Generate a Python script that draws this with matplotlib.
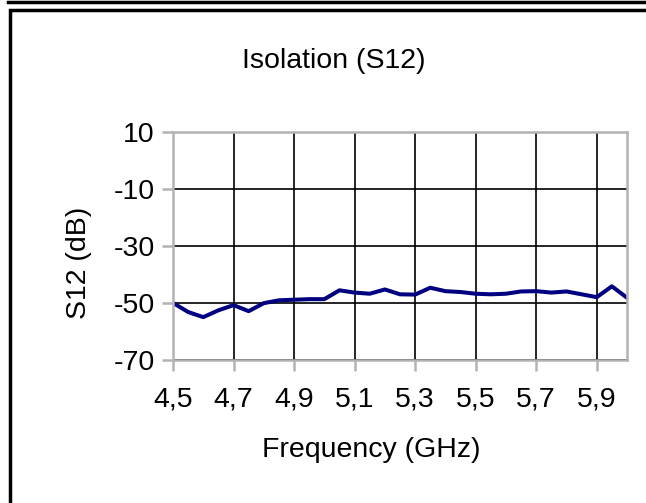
import matplotlib
matplotlib.use('Agg')
import matplotlib.pyplot as plt
from matplotlib.patches import Rectangle
from matplotlib.lines import Line2D

freq = [4.5, 4.55, 4.6, 4.65, 4.7, 4.75, 4.8, 4.85, 4.9, 4.95, 5.0,
        5.05, 5.1, 5.15, 5.2, 5.25, 5.3, 5.35, 5.4, 5.45, 5.5,
        5.55, 5.6, 5.65, 5.7, 5.75, 5.8, 5.85, 5.9, 5.95, 6.0]
s12 = [-50.0, -53.2, -55.0, -52.6, -50.8, -52.9, -50.1, -49.1, -48.9, -48.7, -48.7,
       -45.6, -46.4, -46.8, -45.3, -47.0, -47.1, -44.7, -45.9, -46.2, -46.8,
       -47.0, -46.8, -46.0, -45.9, -46.4, -46.0, -47.0, -48.0, -44.2, -48.2]
xticks = [4.5, 4.7, 4.9, 5.1, 5.3, 5.5, 5.7, 5.9]
xlabels = ['4,5', '4,7', '4,9', '5,1', '5,3', '5,5', '5,7', '5,9']
yticks = [10, -10, -30, -50, -70]
ylabels = ['10', '-10', '-30', '-50', '-70']

plt.rcParams['font.family'] = ['Liberation Sans', 'DejaVu Sans']
W, H = 646, 503
fs = 20.5
fig = plt.figure(figsize=(W / 100.0, H / 100.0), dpi=100)

# frame like the original screenshot
fig.add_artist(Line2D([8 / W, 1], [1 - 1.5 / H, 1 - 1.5 / H], color='black', lw=2.5,
                      transform=fig.transFigure))
fig.add_artist(Rectangle((9.5 / W, -0.1), 1.2, 1 - 9.5 / H + 0.1, fill=False,
                         edgecolor='black', lw=2.5, transform=fig.transFigure))

ax = fig.add_axes([173 / W, 1 - 360 / H, 454 / W, 228.5 / H])
ax.plot(freq, s12, color='#000080', lw=2.9, solid_joinstyle='round')
ax.set_xlim(4.5, 6.0)
ax.set_ylim(-70, 10)
ax.set_xticks(xticks)
ax.set_xticklabels(xlabels)
ax.set_yticks(yticks)
ax.set_yticklabels(ylabels)
ax.grid(True, color='black', lw=1.2)
for s in ax.spines.values():
    s.set_color('#b3b3b3')
    s.set_linewidth(1.8)
ax.tick_params(axis='both', colors='#b3b3b3', labelcolor='black', labelsize=fs,
               length=8, width=1.8, direction='out')
ax.tick_params(axis='y', pad=5)
ax.tick_params(axis='x', pad=11)

fig.text(334 / W, 1 - 61 / H, 'Isolation (S12)', ha='center', va='center', fontsize=fs)
fig.text(371 / W, 1 - 450 / H, 'Frequency (GHz)', ha='center', va='center', fontsize=fs)
fig.text(79 / W, 1 - 263 / H, 'S12 (dB)', ha='center', va='center', fontsize=fs,
         rotation=90)

fig.savefig('out.png', dpi=100)
